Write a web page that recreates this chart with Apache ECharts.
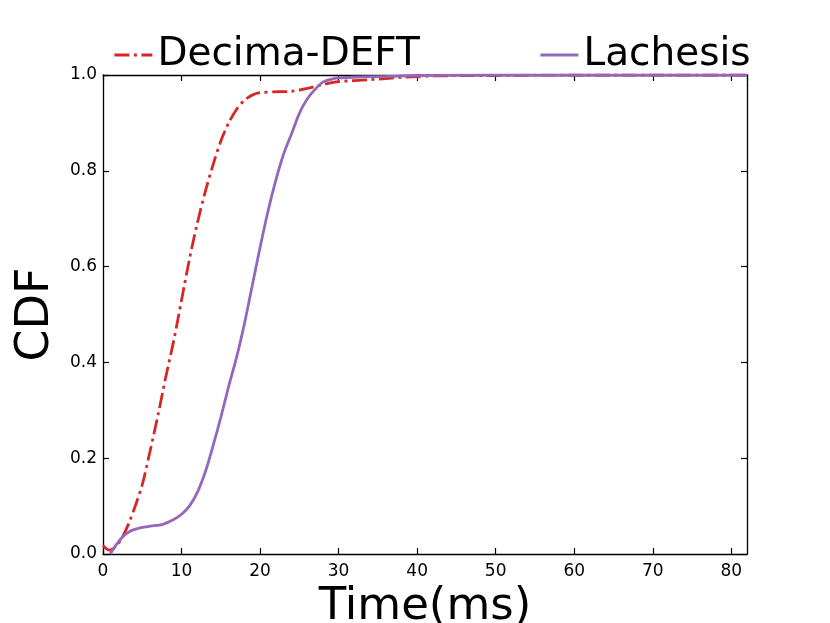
<!DOCTYPE html>
<html>
<head>
<meta charset="utf-8">
<script src="https://cdn.jsdelivr.net/npm/echarts@6/dist/echarts.min.js"></script>
<style>
html,body{margin:0;padding:0;background:#fff;}
#chart{width:830px;height:623px;}
</style>
</head>
<body>
<div id="chart"></div>
<script>
var seriesNames = ['Decima-DEFT', 'Lachesis'];
var decimaTime = [0, 0.8, 1.6, 2.5, 3.3, 4, 5, 6, 7, 8, 9, 10, 11, 12, 13, 14, 15, 16, 17, 18, 19, 20, 22, 24, 26, 28, 30, 34, 38, 42, 50, 60, 82];
var decimaCdf = [0.018, 0.008, 0.015, 0.036, 0.065, 0.095, 0.145, 0.215, 0.29, 0.37, 0.445, 0.53, 0.615, 0.69, 0.755, 0.812, 0.862, 0.9, 0.928, 0.947, 0.958, 0.963, 0.965, 0.966, 0.972, 0.98, 0.986, 0.99, 0.995, 0.998, 0.999, 1.0, 1.0];
var lachesisTime = [0.9, 1.5, 2.5, 3.5, 4.6, 6, 7.6, 9, 10, 11, 12, 13, 14, 15, 16, 17, 18, 19, 20, 21, 22, 23, 24, 25, 26, 27, 28, 29, 30, 33, 36, 40, 50, 82];
var lachesisCdf = [0.0, 0.015, 0.036, 0.048, 0.054, 0.058, 0.062, 0.072, 0.083, 0.1, 0.128, 0.17, 0.225, 0.285, 0.35, 0.41, 0.48, 0.56, 0.64, 0.715, 0.78, 0.835, 0.877, 0.92, 0.95, 0.97, 0.985, 0.991, 0.994, 0.996, 0.997, 0.999, 1.0, 1.0];
var xTickMin = 0, xTickMax = 82, xTickStep = 10;
var yTickMin = 0, yTickMax = 1, yTickStep = 0.2;

function pairs(xs, ys) { return xs.map(function (x, i) { return [x, ys[i]]; }); }

var font = 'DejaVu Sans';
var dashDot = [15, 4.5, 3, 4.5];
var tickCommon = { show: true, inside: true, length: 6, lineStyle: { color: '#000', width: 1.2 } };
var lineCommon = { show: true, onZero: false, lineStyle: { color: '#000', width: 1.3 } };

var chart = echarts.init(document.getElementById('chart'));
chart.setOption({
  animation: false,
  backgroundColor: '#fff',
  grid: { left: 103, right: 83, top: 75, bottom: 69, containLabel: false, outerBoundsMode: 'none' },
  legend: [
    {
      data: [seriesNames[0]], left: 113, top: 35, padding: 0, itemWidth: 38, itemHeight: 14,
      itemStyle: { opacity: 0 },
      lineStyle: { type: dashDot, width: 2.8, cap: 'butt' },
      textStyle: { fontFamily: font, fontSize: 39, color: '#000', lineHeight: 40 }
    },
    {
      data: [seriesNames[1]], left: 539, top: 35, padding: 0, itemWidth: 38, itemHeight: 14,
      itemStyle: { opacity: 0 },
      lineStyle: { width: 2.8 },
      textStyle: { fontFamily: font, fontSize: 39, color: '#000', lineHeight: 40 }
    }
  ],
  xAxis: [
    {
      type: 'value', min: xTickMin, max: xTickMax, interval: xTickStep, position: 'bottom',
      name: 'Time(ms)', nameLocation: 'middle', nameGap: 26,
      nameTextStyle: { fontFamily: font, fontSize: 45, color: '#000' },
      axisLine: lineCommon, axisTick: tickCommon, splitLine: { show: false },
      axisLabel: { fontFamily: font, fontSize: 17, color: '#000', margin: 9, showMaxLabel: false }
    },
    {
      type: 'value', min: xTickMin, max: xTickMax, interval: xTickStep, position: 'top',
      axisLine: lineCommon, axisTick: tickCommon, splitLine: { show: false }, axisLabel: { show: false }
    }
  ],
  yAxis: [
    {
      type: 'value', min: yTickMin, max: yTickMax, interval: yTickStep, position: 'left',
      name: 'CDF', nameLocation: 'middle', nameGap: 43, nameRotate: 90,
      nameTextStyle: { fontFamily: font, fontSize: 46, color: '#000' },
      axisLine: lineCommon, axisTick: tickCommon, splitLine: { show: false },
      axisLabel: { fontFamily: font, fontSize: 17, color: '#000', margin: 6, formatter: function (v) { return v.toFixed(1); } }
    },
    {
      type: 'value', min: yTickMin, max: yTickMax, interval: yTickStep, position: 'right',
      axisLine: lineCommon, axisTick: tickCommon, splitLine: { show: false }, axisLabel: { show: false }
    }
  ],
  series: [
    {
      name: seriesNames[0], type: 'line', xAxisIndex: 0, yAxisIndex: 0,
      data: pairs(decimaTime, decimaCdf), showSymbol: false, symbol: 'none',
      smooth: 0.3, clip: true,
      lineStyle: { color: '#d62728', width: 2.8, type: dashDot, cap: 'butt' },
      itemStyle: { color: '#d62728' }
    },
    {
      name: seriesNames[1], type: 'line', xAxisIndex: 0, yAxisIndex: 0,
      data: pairs(lachesisTime, lachesisCdf), showSymbol: false, symbol: 'none',
      smooth: 0.3, clip: true,
      lineStyle: { color: '#9467bd', width: 2.8, type: 'solid' },
      itemStyle: { color: '#9467bd' }
    }
  ]
});
</script>
</body>
</html>
